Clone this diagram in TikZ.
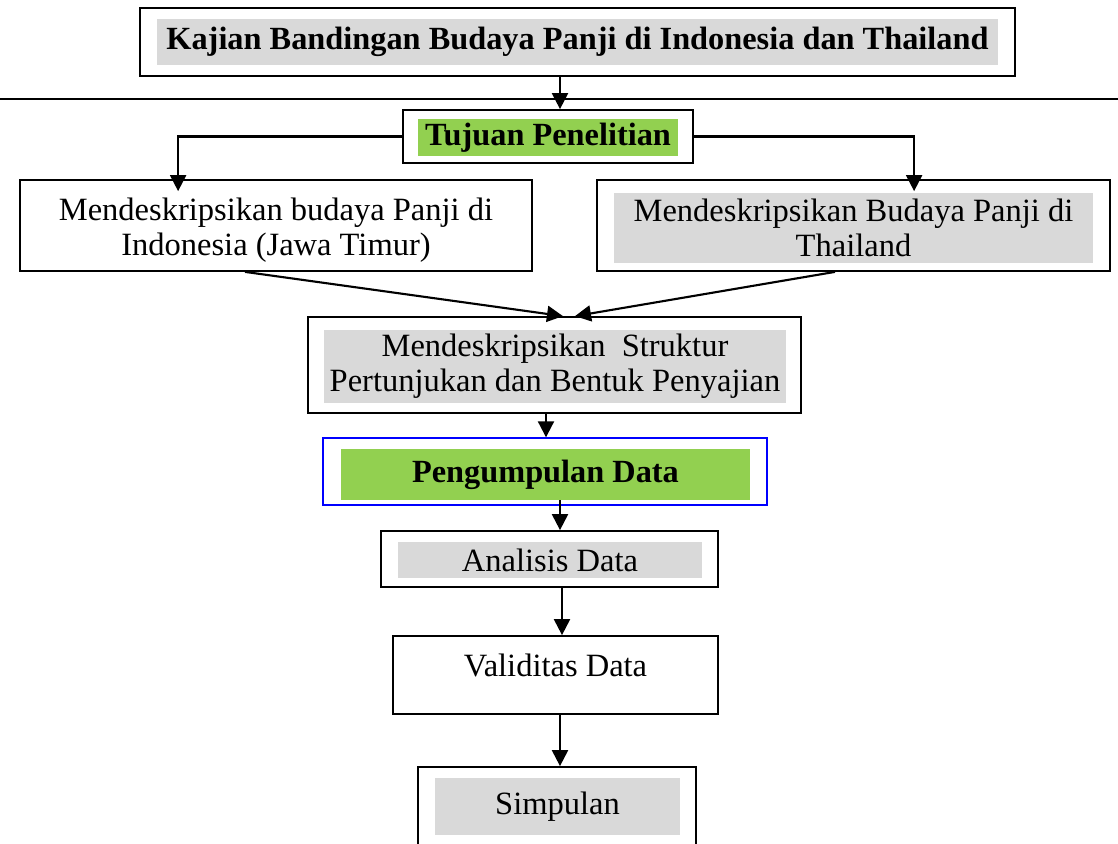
\documentclass[tikz,border=0pt]{standalone}
\usepackage{fontspec}
\setmainfont{Liberation Serif}
\usetikzlibrary{arrows.meta,positioning,calc}
\definecolor{boxgray}{RGB}{217,217,217}
\definecolor{boxgreen}{RGB}{146,208,80}

\begin{document}
\begin{tikzpicture}[
  box/.style={draw, rectangle, line width=1pt, inner sep=0pt},
  txt/.style={rectangle, inner sep=0pt, align=center, font=\fontsize{18.5}{20}\selectfont},
  btxt/.style={txt, font=\fontsize{18.4}{20}\selectfont\bfseries},
  arr/.style={-{Triangle[length=3.2mm,width=3.2mm]}, line width=1.2pt}
]
\useasboundingbox (0,0) rectangle (22.36,-16.88);
\clip (0,0) rectangle (22.36,-16.88);

\node[box, minimum width=17.5cm, minimum height=1.36cm] (judul) at (11.55,-0.84) {};
\node[btxt, fill=boxgray, minimum width=16.82cm, minimum height=0.92cm] (judulT) at (11.55,-0.84) {Kajian Bandingan Budaya Panji di Indonesia dan Thailand};

\draw[line width=0.8pt] (0,-1.98) -- (22.36,-1.98);

\node[box, minimum width=5.8cm, minimum height=1.06cm] (tujuan) at (10.96,-2.73) {};
\node[btxt, fill=boxgreen, minimum width=5.2cm, minimum height=0.74cm] (tujuanT) at (10.96,-2.75) {Tujuan Penelitian};

\node[box, minimum width=10.24cm, minimum height=1.82cm] (kiri) at (5.52,-4.51) {};
\node[txt] (kiriT) at (5.52,-4.6) {Mendeskripsikan budaya Panji di\\Indonesia (Jawa Timur)};

\node[box, minimum width=10.26cm, minimum height=1.82cm] (kanan) at (17.07,-4.51) {};
\node[txt, fill=boxgray, minimum width=9.58cm, minimum height=1.4cm] (kananT) at (17.07,-4.56) {Mendeskripsikan Budaya Panji di\\Thailand};

\node[box, minimum width=9.86cm, minimum height=1.92cm] (struktur) at (11.09,-7.3) {};
\node[txt, fill=boxgray, minimum width=9.24cm, minimum height=1.46cm] (strukturT) at (11.1,-7.33) {Mendeskripsikan~ Struktur\\Pertunjukan dan Bentuk Penyajian};

\node[box, draw=blue, line width=0.8pt, minimum width=8.88cm, minimum height=1.34cm] (kumpul) at (10.9,-9.43) {};
\node[btxt, fill=boxgreen, minimum width=8.18cm, minimum height=1.02cm] (kumpulT) at (10.91,-9.49) {Pengumpulan Data};

\node[box, minimum width=6.74cm, minimum height=1.12cm] (analisis) at (10.99,-11.18) {};
\node[txt, fill=boxgray, minimum width=6.08cm, minimum height=0.72cm] (analisisT) at (11.0,-11.2) {Analisis Data};

\node[box, minimum width=6.5cm, minimum height=1.56cm] (valid) at (11.11,-13.5) {};
\node[txt] (validT) at (11.11,-13.3) {Validitas Data};

\node[box, minimum width=5.56cm, minimum height=1.9cm] (simpulan) at (11.14,-16.29) {};
\node[txt, fill=boxgray, minimum width=4.9cm, minimum height=1.14cm] (simpulanT) at (11.15,-16.13) {Simpulan};

\draw[arr] (11.2,0 |- judul.south) -- (11.2,0 |- tujuan.north);
\draw[arr] (tujuan.west) -| ($(kiri.north west)+(3.18,-0.24)$);
\draw[arr] (tujuan.east) -| ($(kanan.north west)+(6.36,-0.24)$);
\draw[arr] ($(kiri.south)+(-0.62,0)$) -- ($(struktur.north)+(0.17,0)$);
\draw[arr] ($(kanan.south)+(-0.37,0)$) -- ($(struktur.north)+(0.41,0)$);
\draw[arr] (10.92,0 |- struktur.south) -- (10.92,0 |- kumpul.north);
\draw[arr] (11.2,0 |- kumpulT.south) -- (11.2,0 |- analisis.north);
\draw[arr] (11.24,0 |- analisis.south) -- (11.24,0 |- valid.north);
\draw[arr] (11.2,0 |- valid.south) -- (11.2,0 |- simpulan.north);
\end{tikzpicture}
\end{document}
